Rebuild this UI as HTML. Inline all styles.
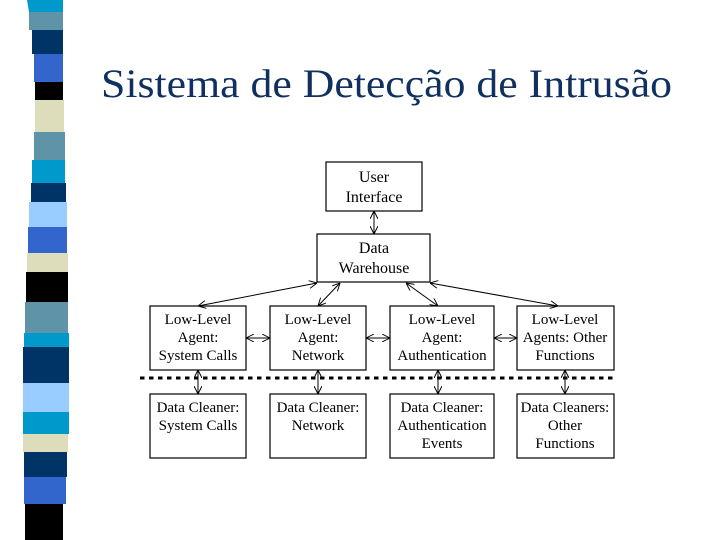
<!DOCTYPE html>
<html><head><meta charset="utf-8"><style>
html,body{margin:0;padding:0;background:#fff;width:720px;height:540px;overflow:hidden}
</style></head><body>
<svg width="720" height="540" viewBox="0 0 720 540" xmlns="http://www.w3.org/2000/svg">
<defs>
<marker id="a" viewBox="0 0 10 10" refX="10" refY="5" markerWidth="8" markerHeight="8" orient="auto-start-reverse" markerUnits="userSpaceOnUse">
<path d="M0,0 L10,5 L0,10" fill="none" stroke="#000" stroke-width="1.2"/>
</marker>
</defs>
<!-- stripes -->
<g>
<polygon points="27,0 63,0 63,12 29,12" fill="#0099cc"/>
<rect x="29" y="12" width="34" height="18" fill="#5f93a8"/>
<rect x="32" y="30" width="31" height="24" fill="#003366"/>
<rect x="34" y="54" width="29" height="28" fill="#3366cc"/>
<rect x="35" y="82" width="28" height="18" fill="#000"/>
<rect x="35" y="100" width="29" height="32" fill="#ddddbb"/>
<rect x="34" y="132" width="31" height="28" fill="#5f93a8"/>
<rect x="32" y="160" width="33" height="23" fill="#0099cc"/>
<rect x="31" y="183" width="35" height="19" fill="#003366"/>
<rect x="29" y="202" width="38" height="25" fill="#99ccff"/>
<rect x="28" y="227" width="39" height="26" fill="#3366cc"/>
<rect x="27" y="253" width="41" height="19" fill="#ddddbb"/>
<rect x="26" y="272" width="42" height="30" fill="#000"/>
<rect x="25" y="302" width="43" height="31" fill="#5f93a8"/>
<rect x="24" y="333" width="45" height="14" fill="#0099cc"/>
<rect x="23" y="347" width="46" height="36" fill="#003366"/>
<rect x="23" y="383" width="46" height="29" fill="#99ccff"/>
<rect x="23" y="412" width="46" height="22" fill="#0099cc"/>
<rect x="23" y="434" width="45" height="18" fill="#ddddbb"/>
<rect x="24" y="452" width="43" height="25" fill="#003366"/>
<rect x="24" y="477" width="42" height="27" fill="#3366cc"/>
<rect x="25" y="504" width="38" height="36" fill="#000"/>
</g>
<text x="101" y="97" font-family="Liberation Serif, serif" font-size="40" fill="#10305f" textLength="571" lengthAdjust="spacingAndGlyphs">Sistema de Detecção de Intrusão</text>
<g fill="none" stroke="#000" stroke-width="1.2">
<rect x="326" y="162" width="96" height="49"/>
<rect x="317" y="234" width="113" height="48"/>
<rect x="150" y="306" width="96" height="64"/>
<rect x="270" y="306" width="96" height="64"/>
<rect x="390" y="306" width="104" height="64"/>
<rect x="517" y="306" width="97" height="64"/>
<rect x="150" y="394" width="96" height="64"/>
<rect x="270" y="394" width="96" height="64"/>
<rect x="390" y="394" width="104" height="64"/>
<rect x="517" y="394" width="97" height="64"/>
</g>
<line x1="140" y1="378" x2="616" y2="378" stroke="#000" stroke-width="3" stroke-dasharray="4.5,4.5"/>
<g stroke="#000" stroke-width="1" marker-start="url(#a)" marker-end="url(#a)">
<line x1="374" y1="211" x2="374" y2="234"/>
<line x1="317" y1="283" x2="198" y2="306"/>
<line x1="340" y1="283" x2="318" y2="306"/>
<line x1="406" y1="283" x2="438" y2="306"/>
<line x1="430" y1="283" x2="558" y2="306"/>
<line x1="246" y1="338" x2="270" y2="338"/>
<line x1="366" y1="338" x2="390" y2="338"/>
<line x1="494" y1="338" x2="517" y2="338"/>
<line x1="198" y1="370" x2="198" y2="394"/>
<line x1="318" y1="370" x2="318" y2="394"/>
<line x1="438" y1="370" x2="438" y2="394"/>
<line x1="565" y1="370" x2="565" y2="394"/>
</g>
<g font-family="Liberation Serif, serif" font-size="15" fill="#000" text-anchor="middle">
<text x="374" y="182" font-size="16">User</text>
<text x="374" y="202" font-size="16">Interface</text>
<text x="374" y="253" font-size="16">Data</text>
<text x="374" y="273" font-size="16">Warehouse</text>
<text x="198" y="324">Low-Level</text><text x="198" y="342">Agent:</text><text x="198" y="360">System Calls</text>
<text x="318" y="324">Low-Level</text><text x="318" y="342">Agent:</text><text x="318" y="360">Network</text>
<text x="442" y="324">Low-Level</text><text x="442" y="342">Agent:</text><text x="442" y="360">Authentication</text>
<text x="565" y="324">Low-Level</text><text x="565" y="342">Agents: Other</text><text x="565" y="360">Functions</text>
<text x="198" y="412">Data Cleaner:</text><text x="198" y="430">System Calls</text>
<text x="318" y="412">Data Cleaner:</text><text x="318" y="430">Network</text>
<text x="442" y="412">Data Cleaner:</text><text x="442" y="430">Authentication</text><text x="442" y="448">Events</text>
<text x="565" y="412">Data Cleaners:</text><text x="565" y="430">Other</text><text x="565" y="448">Functions</text>
</g>
</svg>
</body></html>
